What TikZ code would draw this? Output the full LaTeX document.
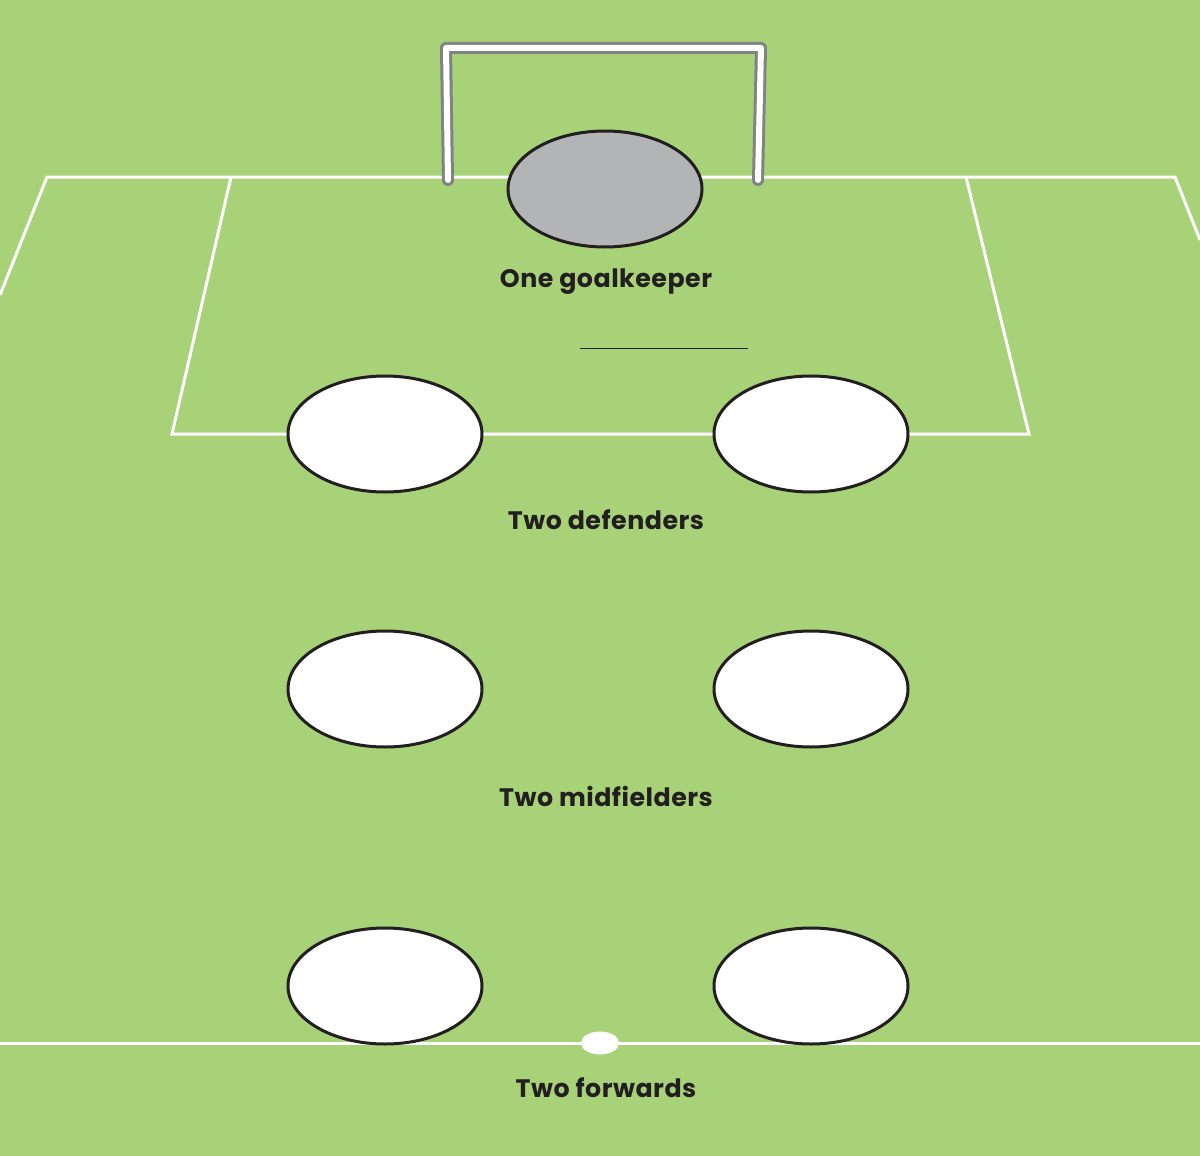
\documentclass[tikz,border=0pt]{standalone}
\usepackage{fontspec}
\setmainfont{Poppins}[LetterSpace=2]
\usetikzlibrary{shapes.geometric}
\definecolor{field}{HTML}{A8D277}
\definecolor{gkfill}{HTML}{B3B4B6}
\definecolor{postgray}{HTML}{808285}
\definecolor{txt}{HTML}{231F20}
\begin{document}
\begin{tikzpicture}[x=1pt,y=-1pt,
  fieldline/.style={draw=white,line width=3pt},
  player/.style={ellipse,draw=txt,line width=3pt,fill=white,minimum width=194pt,minimum height=116pt,inner sep=0pt},
  keeper/.style={player,fill=gkfill},
  lbl/.style={text=txt,font=\bfseries\fontsize{25.3}{28}\selectfont,inner sep=0pt}]
\useasboundingbox (0,0) rectangle (1200,1156);
\fill[field] (0,0) rectangle (1200,1156);
% outer field
\draw[fieldline] (0,295) -- (47,177) -- (1175,177) -- (1200,240);
% penalty box
\draw[fieldline] (231,177) -- (172,434) -- (1029,434) -- (966,177);
% halfway line
\draw[fieldline] (0,1043) -- (1200,1043);
\node[ellipse,fill=white,minimum width=38pt,minimum height=23pt,inner sep=0pt] (spot) at (600,1043) {};
% goal
\draw[postgray,line width=12pt,line cap=round,line join=round] (448,180) -- (446,48) -- (761,48) -- (758,180);
\draw[white,line width=6pt,line cap=round,line join=round] (448,180) -- (446,48) -- (761,48) -- (758,180);
% players
\node[keeper] (gk) at (605,189) {};
\node[player] (d1) at (385,434) {};
\node[player] (d2) at (811,434) {};
\node[player] (m1) at (385,689) {};
\node[player] (m2) at (811,689) {};
\node[player] (f1) at (385,986) {};
\node[player] (f2) at (811,986) {};
% labels
\node[lbl] (lgk) at (606,282) {One goalkeeper};
\node[lbl] (ld) at (606,520) {Two defenders};
\node[lbl] (lm) at (606,796) {Two midfielders};
\node[lbl] (lf) at (606,1088) {Two forwards};
\coordinate (ua) at (580,348);
\coordinate (ub) at (748,348);
\draw[txt,line width=1pt] (ua) -- (ub);
\end{tikzpicture}
\end{document}
